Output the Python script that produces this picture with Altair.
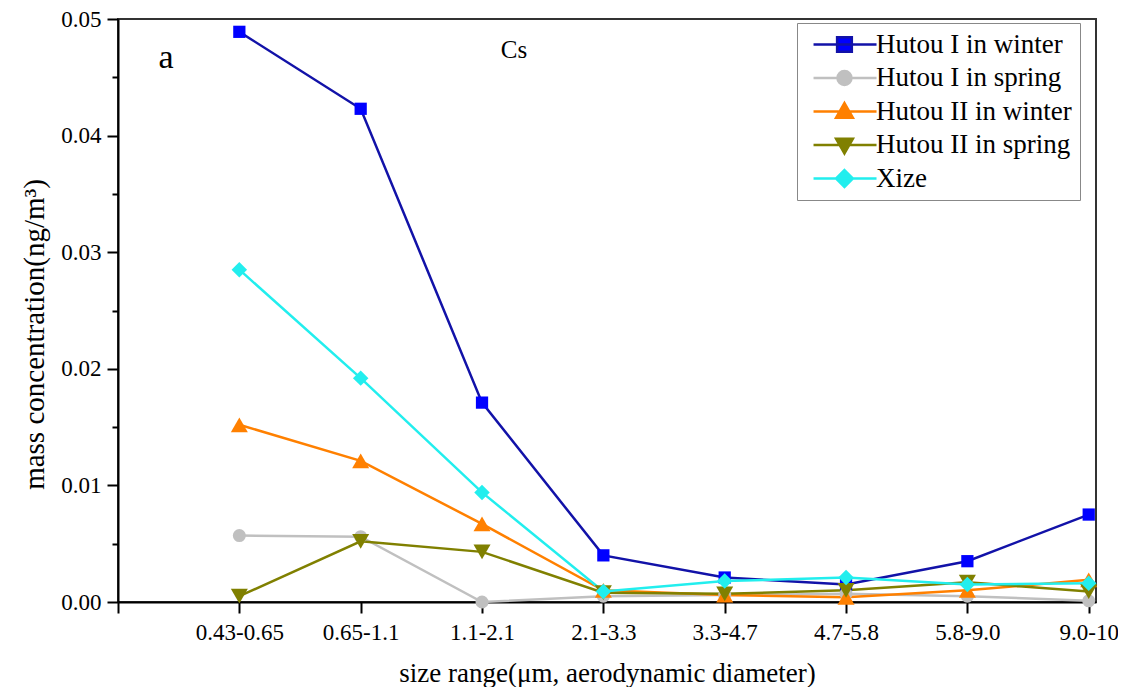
import altair as alt
import pandas as pd

categories = ["0.43-0.65", "0.65-1.1", "1.1-2.1", "2.1-3.3", "3.3-4.7", "4.7-5.8", "5.8-9.0", "9.0-10"]
series = ["Hutou I in winter", "Hutou I in spring", "Hutou II in winter", "Hutou II in spring", "Xize"]

hutou1_winter = [0.0489, 0.0423, 0.0171, 0.0040, 0.0021, 0.0015, 0.0035, 0.0075]
hutou1_spring = [0.0057, 0.0056, 0.0000, 0.0005, 0.0006, 0.0007, 0.0005, 0.0001]
hutou2_winter = [0.0152, 0.0121, 0.0067, 0.0010, 0.0006, 0.0004, 0.0010, 0.0019]
hutou2_spring = [0.0005, 0.0052, 0.0043, 0.0008, 0.0007, 0.0010, 0.0017, 0.0009]
xize = [0.0285, 0.0192, 0.0094, 0.0009, 0.0018, 0.0021, 0.0015, 0.0016]

line_colors = ["#1212A8", "#C0C0C0", "#FF8000", "#808000", "#22EEEE"]
marker_colors = ["#0000FF", "#C0C0C0", "#FF8000", "#808000", "#22EEEE"]
shapes = ["square", "circle", "triangle-up", "triangle-down", "diamond"]
marker_sizes = [150, 170, 290, 290, 240]

# legend symbols: a line with the marker on it
c = 3.71
L = -0.71
R = 8.29
legend_shapes = [
    f"M{L},0H{R}M{c-1.05},-1.05H{c+1.05}V1.05H{c-1.05}Z",
    f"M{L},0H{R}M{c+1},0A1,1,0,1,1,{c-1},0A1,1,0,1,1,{c+1},0Z",
    f"M{L},0H{R}M{c},-1.2L{c+1.2},0.9H{c-1.2}Z",
    f"M{L},0H{R}M{c},1.2L{c+1.2},-0.9H{c-1.2}Z",
    f"M{L},0H{R}M{c},-1.2L{c+1.2},0L{c},1.2L{c-1.2},0Z",
]

values_by_series = [hutou1_winter, hutou1_spring, hutou2_winter, hutou2_spring, xize]
rows = []
for si, (name, vals) in enumerate(zip(series, values_by_series)):
    for ci, v in enumerate(vals):
        rows.append({"series": name, "order": si, "xi": ci + 1, "value": v})
df = pd.DataFrame(rows)

FONT = "Liberation Serif"
label_array = "[''," + ",".join(f"'{t}'" for t in categories) + "]"
major_test = "abs(datum.value*100 - round(datum.value*100)) < 0.001"

x_enc = alt.X(
    "xi:Q",
    scale=alt.Scale(domain=[0, 8.06], nice=False, zero=False),
    axis=alt.Axis(
        values=list(range(9)),
        labelExpr=f"{label_array}[datum.value]",
        title="size range(\u03bcm, aerodynamic diameter)",
        titlePadding=16,
        labelPadding=8,
        tickSize=11,
        titleFontSize=27,
    ),
)
y_enc = alt.Y(
    "value:Q",
    scale=alt.Scale(domain=[0, 0.05], nice=False),
    axis=alt.Axis(
        values=[round(i * 0.005, 3) for i in range(11)],
        labelExpr=f"{major_test} ? format(datum.value, '.2f') : ''",
        tickSize={"condition": {"test": major_test, "value": 11}, "value": 6},
        title="mass concentration(ng/m\u00b3)",
        titlePadding=11,
        labelPadding=6,
        titleFontSize=29,
        titleY=315,
    ),
)

base = alt.Chart(df)

lines = base.mark_line(strokeWidth=2.5).encode(
    x=x_enc,
    y=y_enc,
    stroke=alt.Stroke("series:N", scale=alt.Scale(domain=series, range=line_colors), legend=None),
    detail="series:N",
)
points = base.mark_point(filled=True, opacity=1).encode(
    x="xi:Q",
    y="value:Q",
    fill=alt.Fill("series:N", scale=alt.Scale(domain=series, range=marker_colors), legend=None),
    shape=alt.Shape("series:N", scale=alt.Scale(domain=series, range=shapes), legend=None),
    size=alt.Size("series:N", scale=alt.Scale(type="ordinal", domain=series, range=marker_sizes), legend=None),
    order="order:Q",
)
data_group = alt.layer(lines, points)

leg = alt.Legend(
    title=None,
    orient="none",
    legendX=679,
    legendY=4,
    padding=8,
    strokeColor="#888888",
    fillColor="white",
    labelFont=FONT,
    labelFontSize=27,
    labelColor="black",
    labelLimit=0,
    labelOffset=44,
    symbolSize=196,
    symbolStrokeWidth=2.5,
    rowPadding=5.5,
)
legend_layer = base.transform_filter("datum.value < -1").mark_point(filled=True, strokeWidth=2.5, opacity=1).encode(
    x="xi:Q",
    y="value:Q",
    fill=alt.Fill("series:N", scale=alt.Scale(domain=series, range=marker_colors), legend=leg),
    stroke=alt.Stroke("series:N", scale=alt.Scale(domain=series, range=line_colors), legend=leg),
    shape=alt.Shape("series:N", scale=alt.Scale(domain=series, range=legend_shapes), legend=leg),
)

annot_text = ["a", "Cs"]
annot_size = [34, 25]
annot_df = pd.DataFrame({"t": annot_text})
label_a = alt.Chart(annot_df).transform_filter("datum.t == 'a'").mark_text(
    font=FONT, fontSize=annot_size[0], color="black", align="center", baseline="alphabetic"
).encode(text="t:N", x=alt.value(48), y=alt.value(49))
label_cs = alt.Chart(annot_df).transform_filter("datum.t == 'Cs'").mark_text(
    font=FONT, fontSize=annot_size[1], color="black", align="center", baseline="alphabetic"
).encode(text="t:N", x=alt.value(396), y=alt.value(39))

chart = (
    alt.layer(data_group, legend_layer, label_a, label_cs)
    .resolve_scale(fill="independent", stroke="independent", shape="independent")
    .properties(
        width=978,
        height=583,
        padding={"left": 110, "top": 11, "right": 22, "bottom": 85},
        autosize=alt.AutoSizeParams(type="none"),
        background="white",
    )
    .configure_view(stroke="#333333", strokeWidth=2)
    .configure_axis(
        grid=False,
        domainColor="black",
        domainWidth=2,
        tickColor="black",
        tickWidth=2,
        labelFont=FONT,
        labelFontSize=23,
        labelColor="black",
        titleFont=FONT,
        titleFontWeight="normal",
        titleColor="black",
    )
)

chart.save("out.html", embed_options={"renderer": "svg", "actions": False})
